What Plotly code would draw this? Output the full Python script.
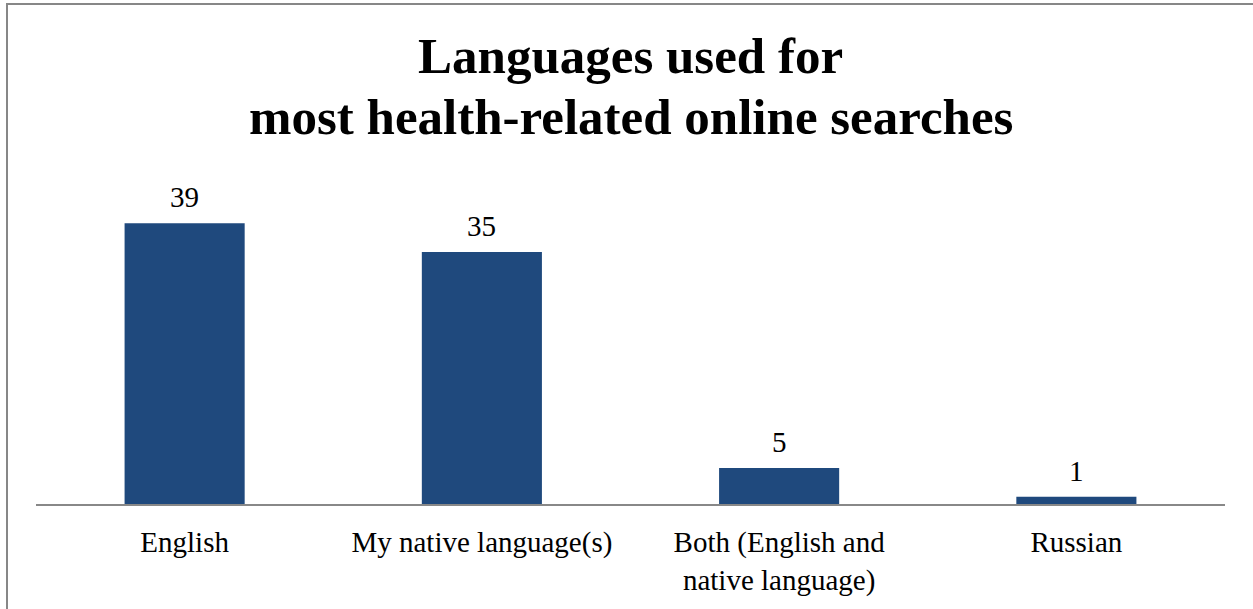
import plotly.graph_objects as go

categories = ["English", "My native language(s)", "Both (English and<br>native language)", "Russian"]
values = [39, 35, 5, 1]
title_lines = ["Languages used for", "most health-related online searches"]

W, H = 1253, 609
ML, MR, MT, MB = 36, 28, 180, 105
FONT = "Liberation Serif, Times New Roman, serif"

fig = go.Figure()
fig.add_trace(go.Bar(
    x=categories, y=values,
    marker=dict(color="#1F497D", line=dict(width=0)),
    width=0.404,
    hoverinfo="x+y",
))

# data labels
for c, v in zip(categories, values):
    fig.add_annotation(x=c, y=v, xref="x", yref="y", text=str(v), showarrow=False,
                       yanchor="middle", yshift=26,
                       font=dict(family=FONT, size=29, color="#000000"))

pw, ph = W - ML - MR, H - MT - MB
def px_x(p):
    return (p - ML) / pw
def px_y(p):
    return (H - MB - p) / ph

# title lines
for line, cy in zip(title_lines, [56, 117]):
    fig.add_annotation(x=0.5, y=px_y(cy), xref="paper", yref="paper",
                       text="<b>" + line + "</b>", showarrow=False,
                       xanchor="center", yanchor="middle",
                       font=dict(family=FONT, size=51, color="#000000"))

# chart border: top and left edges
fig.add_shape(type="line", xref="paper", yref="paper",
              x0=px_x(6), x1=px_x(W + 10), y0=px_y(4), y1=px_y(4),
              line=dict(color="#878787", width=2), layer="above")
fig.add_shape(type="line", xref="paper", yref="paper",
              x0=px_x(7), x1=px_x(7), y0=px_y(3), y1=px_y(H + 10),
              line=dict(color="#878787", width=2), layer="above")

fig.update_layout(
    width=W, height=H,
    margin=dict(l=ML, r=MR, t=MT, b=MB, pad=0, autoexpand=False),
    paper_bgcolor="white", plot_bgcolor="white",
    showlegend=False,
    xaxis=dict(showline=True, linecolor="#888888", linewidth=2,
               ticks="", showgrid=False, zeroline=False, automargin=False,
               tickfont=dict(family=FONT, size=29, color="#000000"),
               ticklabelstandoff=11),
    yaxis=dict(range=[0, 45], visible=False, showgrid=False, zeroline=False,
               automargin=False),
)

fig.write_html("out.html")
